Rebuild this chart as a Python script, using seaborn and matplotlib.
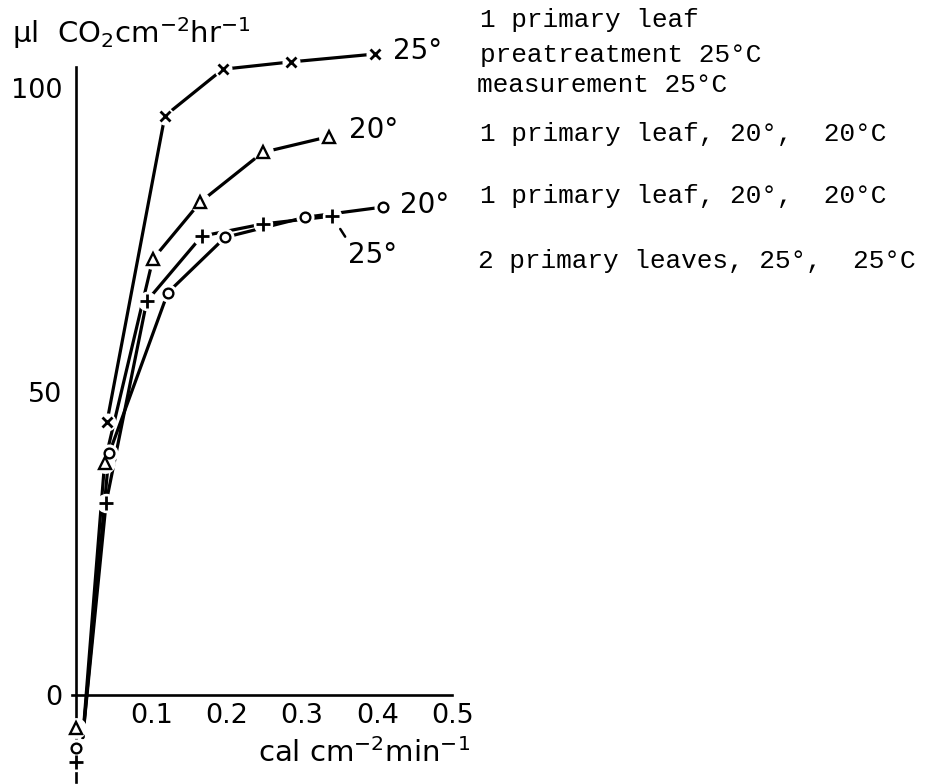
import matplotlib
matplotlib.use("Agg")
import matplotlib.pyplot as plt
import pandas as pd
import seaborn as sns

# Net CO2 uptake (µl CO2 cm-2 hr-1) against irradiance (cal cm-2 min-1)
# x series: 1 primary leaf, pretreatment 25°C, measurement 25°C
cross_x = [0.041, 0.118, 0.195, 0.285, 0.397]
cross_y = [44.9, 95.4, 103.1, 104.3, 105.6]
# triangle series: 1 primary leaf, 20°, 20°C
tri_x = [0.0, 0.038, 0.102, 0.165, 0.248, 0.336]
tri_y = [-5.5, 38.3, 71.8, 81.2, 89.4, 92.0]
# circle series: 1 primary leaf, 20°, 20°C
circ_x = [0.0, 0.044, 0.122, 0.198, 0.304, 0.408]
circ_y = [-8.7, 39.8, 66.3, 75.4, 78.7, 80.4]
# plus series: 2 primary leaves, 25°, 25°C
plus_x = [0.0, 0.040, 0.094, 0.167, 0.248, 0.340]
plus_y = [-11.0, 31.7, 64.9, 75.6, 77.6, 78.9]

# the fitted lines start at the light compensation point, not at the dark values
comp_x = 0.009
comp_y = -7.0

x_ticks = [0.1, 0.2, 0.3, 0.4, 0.5]
x_tick_labels = ["0.1", "0.2", "0.3", "0.4", "0.5"]
y_ticks = [0, 50, 100]
y_tick_labels = ["0", "50", "100"]

curve_labels = ["25°", "20°", "20°", "25°"]
key_lines = [
    "1 primary leaf",
    "preatreatment 25°C",
    "measurement 25°C",
    "1 primary leaf, 20°,  20°C",
    "1 primary leaf, 20°,  20°C",
    "2 primary leaves, 25°,  25°C",
]

sns.set_theme(style="white")
plt.rcParams["font.family"] = ["DejaVu Sans"]
plt.rcParams["mathtext.fontset"] = "dejavusans"

W, H = 931, 784
fig = plt.figure(figsize=(W / 100, H / 100), dpi=100)
ax = fig.add_axes([0.04119, 0.00122, 0.52572, 0.97939])
ax.set_xlim(-0.05, 0.6)
ax.set_ylim(-14.5, 112)

series = [
    dict(mx=cross_x, my=cross_y, lx=cross_x, ly=cross_y,
         marker="x", ms=7.5, mew=2.0, mfc="black", halo=13),
    dict(mx=tri_x, my=tri_y, lx=[comp_x] + tri_x[1:], ly=[comp_y] + tri_y[1:],
         marker="^", ms=9.0, mew=1.7, mfc="white", halo=15),
    dict(mx=circ_x, my=circ_y, lx=[comp_x] + circ_x[1:], ly=[comp_y] + circ_y[1:],
         marker="o", ms=7.0, mew=1.7, mfc="white", halo=13),
    dict(mx=plus_x, my=plus_y, lx=[comp_x] + plus_x[1:], ly=[comp_y] + plus_y[1:],
         marker="+", ms=9.5, mew=2.0, mfc="black", halo=14),
]

for s in series:
    line_df = pd.DataFrame({"x": s["lx"], "y": s["ly"]})
    sns.lineplot(data=line_df, x="x", y="y", ax=ax, sort=False, estimator=None,
                 color="black", linewidth=2.3, zorder=2, clip_on=False)
for s in series:
    pts = pd.DataFrame({"x": s["mx"], "y": s["my"]})
    # white disc behind each symbol leaves the small gap where lines meet it
    sns.lineplot(data=pts, x="x", y="y", ax=ax, sort=False, estimator=None,
                 linestyle="", marker="o", markersize=s["halo"],
                 markerfacecolor="white", markeredgewidth=0, color="white",
                 zorder=3, clip_on=False)
for s in series:
    pts = pd.DataFrame({"x": s["mx"], "y": s["my"]})
    sns.lineplot(data=pts, x="x", y="y", ax=ax, sort=False, estimator=None,
                 linestyle="", marker=s["marker"], markersize=s["ms"],
                 markeredgewidth=s["mew"], markeredgecolor="black",
                 markerfacecolor=s["mfc"], color="black", zorder=4, clip_on=False)

# curve end labels
label_offsets = [(18, 3), (20, 7), (17, 2), (16, -39)]
ends = [(cross_x[-1], cross_y[-1]), (tri_x[-1], tri_y[-1]),
        (circ_x[-1], circ_y[-1]), (plus_x[-1], plus_y[-1])]
for i, (txt, (ex, ey), off) in enumerate(zip(curve_labels, ends, label_offsets)):
    kw = {}
    if i == 3:
        kw["arrowprops"] = dict(arrowstyle="-", color="black", lw=1.8,
                                shrinkA=1, shrinkB=11, relpos=(0.0, 1.0))
    ax.annotate(txt, xy=(ex, ey), xytext=off, textcoords="offset pixels",
                ha="left", va="center", fontsize=20, color="black", **kw)

# axes: spines through the origin
sns.despine(ax=ax)
ax.spines["left"].set_position(("data", 0))
ax.spines["bottom"].set_position(("data", 0))
ax.spines["left"].set_bounds(-14.3, 103.5)
ax.spines["bottom"].set_bounds(-0.005, 0.5)
for sp in ("left", "bottom"):
    ax.spines[sp].set_linewidth(1.9)
    ax.spines[sp].set_color("black")
    ax.spines[sp].set_zorder(2.5)

ax.set_xticks(x_ticks)
ax.set_xticklabels(x_tick_labels)
ax.set_yticks(y_ticks)
ax.set_yticklabels(y_tick_labels)
ax.tick_params(axis="both", direction="in", length=9.5, width=1.9,
               colors="black", labelsize=19.5)
ax.tick_params(axis="y", pad=10)
ax.tick_params(axis="x", pad=6)
ax.set_xlabel("")
ax.set_ylabel("")

ax.text(0.523, -11.0, r"cal cm$^{-2}$min$^{-1}$", ha="right", va="baseline",
        fontsize=21, color="black")
ax.text(-0.085, 107.4, r"µl  CO$_2$cm$^{-2}$hr$^{-1}$", ha="left", va="baseline",
        fontsize=21, color="black")

# key text at the right
key_pos = [(480, 27), (480, 62), (477, 92), (480, 141), (480, 203), (478, 268)]
for txt, (px, py) in zip(key_lines, key_pos):
    fig.text(px / W, 1 - py / H, txt, ha="left", va="baseline",
             family=["Liberation Mono", "DejaVu Sans Mono"], fontsize=18.8,
             color="black")

fig.savefig("out.png", dpi=100, facecolor="white")
